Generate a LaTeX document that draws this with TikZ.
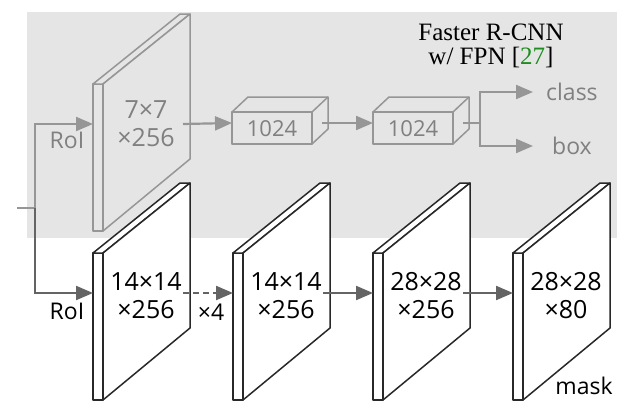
\documentclass[tikz,border=0pt]{standalone}
\usepackage{fontspec}
\setsansfont{Open Sans}
\newfontfamily\titlefont{Liberation Serif}
\usepackage{tikz}
\usetikzlibrary{arrows.meta}

\definecolor{bggray}{RGB}{229,229,229}
\definecolor{headgray}{RGB}{150,150,150}
\definecolor{headtext}{RGB}{128,128,128}
\definecolor{maskline}{RGB}{40,40,40}
\definecolor{maskarrow}{RGB}{100,100,100}
\definecolor{refgreen}{RGB}{30,140,30}

\tikzset{
  conn/.style={line width=2.2pt,-{Triangle[length=17pt,width=14pt]}},
  headconn/.style={conn,draw=headgray,color=headgray},
  maskconn/.style={conn,draw=maskarrow,color=maskarrow},
  lbl/.style={font=\sffamily\fontsize{25}{28}\selectfont,align=center,inner sep=0pt},
  smalllbl/.style={font=\sffamily\fontsize{23}{26}\selectfont,inner sep=0pt},
  titlelbl/.style={font=\titlefont\fontsize{25}{26}\selectfont,inner sep=0pt,anchor=base,
    text height=16pt,text depth=4pt}
}

% feature map: name, x, y (top of the slab), line colour, fill
\newcommand{\featmap}[5]{%
\filldraw[draw=#4,fill=#5,line width=1.5pt,line join=round] (#2,#3) rectangle ++(10,147);
\filldraw[draw=#4,fill=#5,line width=1.5pt,line join=round] (#2,#3) -- ++(87,-70) -- ++(10,0) -- ++(-87,70) -- cycle;
\filldraw[draw=#4,fill=#5,line width=1.5pt,line join=round] (#2+10,#3) -- (#2+97,#3-70) -- (#2+97,#3+75) -- (#2+10,#3+147) -- cycle;
\coordinate (#1-in) at (#2,#3+40);
\coordinate (#1-out) at (#2+90,#3+40);
}

% fc box: name, x, y (top left of the front face)
\newcommand{\fcbox}[3]{%
\draw[headgray,line width=1.5pt,line join=round] (#2,#3) rectangle ++(80,32);
\draw[headgray,line width=1.5pt,line join=round] (#2,#3) -- ++(16,-15) -- ++(80,0) -- ++(0,32) -- ++(-16,15);
\draw[headgray,line width=1.5pt] (#2+80,#3) -- ++(16,-15);
\node[lbl,headtext,font=\sffamily\fontsize{22}{26}\selectfont] (#1) at (#2+40,#3+17) {1024};
\coordinate (#1-in) at (#2,#3+11);
\coordinate (#1-out) at (#2+90,#3+11);
}

\begin{document}
\begin{tikzpicture}[x=1pt,y=-1pt]
\useasboundingbox (0,0) rectangle (635,415);
\fill[bggray] (27,12) rectangle (617,238);

% box head
\featmap{head}{93}{84}{headgray}{bggray}
\node[lbl,headtext] (headtxt) at (146,124) {7×7\\×256};
\fcbox{fcone}{232}{112}
\fcbox{fctwo}{373}{112}
\node[titlelbl] (title) at (491,40) {Faster R-CNN};
\node[titlelbl] (titleref) at (491,64) {w/ FPN [\textcolor{refgreen}{27}]};

% mask head
\featmap{mapa}{93}{253}{maskline}{white}
\featmap{mapb}{233}{253}{maskline}{white}
\featmap{mapc}{373}{253}{maskline}{white}
\featmap{mapd}{513}{253}{maskline}{white}
\node[lbl] (txta) at (146,296) {14×14\\×256};
\node[lbl] (txtb) at (286,296) {14×14\\×256};
\node[lbl] (txtc) at (426,296) {28×28\\×256};
\node[lbl] (txtd) at (566,296) {28×28\\×80};
\node[smalllbl] (mask) at (584,386) {mask};

% RoI input
\coordinate (inp) at (17,208);
\coordinate (fork) at (35,208);
\node[smalllbl,headtext] (roitop) at (67,140) {RoI};
\node[smalllbl] (roibot) at (67,311) {RoI};
\draw[headgray,line width=2.2pt] (inp) -- (fork);
\draw[headconn] (fork) |- (head-in);
\draw[maskconn] (fork) |- (mapa-in);

% arrows
\draw[headconn] (head-out) -- (fcone-in);
\draw[headconn] (fcone-out) -- (fctwo-in);
\coordinate (split) at (480,123);
\node[smalllbl,headtext,anchor=west,inner xsep=13pt] (cls) at (533,92) {class};
\node[smalllbl,headtext,anchor=west,inner xsep=19pt] (bbox) at (533,146) {box};
\draw[headgray,line width=2.2pt] (fctwo-out) -- (split);
\draw[headconn] (split) |- (cls.west);
\draw[headconn] (split) |- (bbox.west);

\draw[maskconn,dash pattern=on 6pt off 4pt] (mapa-out) -- (mapb-in);
\node[smalllbl] (rep) at (211,312) {×4};
\draw[maskconn] (mapb-out) -- (mapc-in);
\draw[maskconn] (mapc-out) -- (mapd-in);
\end{tikzpicture}
\end{document}
